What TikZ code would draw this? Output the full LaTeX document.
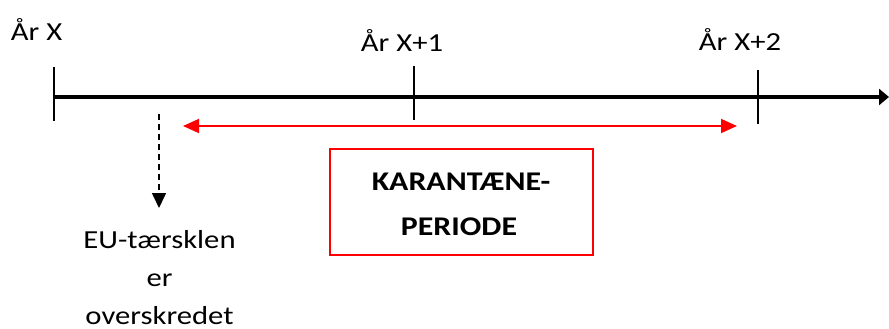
\documentclass[tikz,border=0pt]{standalone}
\usepackage{fontspec}
\setmainfont{Carlito}[FakeStretch=1.18]
\usetikzlibrary{arrows.meta}
\tikzset{
  yeartxt/.style={font=\fontsize{26}{30}\selectfont, anchor=base, inner sep=0pt},
  tickline/.style={line width=1.6pt, black},
  axisline/.style={line width=4pt, -{Triangle[length=10pt,width=16pt]}},
  redarrow/.style={line width=1.8pt, red, {Triangle[length=16pt,width=14pt]}-{Triangle[length=16pt,width=14pt]}},
  dasharrow/.style={line width=1.6pt, dash pattern=on 6pt off 4pt, -{Triangle[length=15pt,width=14pt]}},
  redbox/.style={draw=red, line width=1.6pt, minimum width=263pt, minimum height=106pt, inner sep=0pt},
  boldtxt/.style={font=\fontsize{27}{44}\selectfont\bfseries, anchor=base, inner sep=0pt},
  eutxt/.style={font=\fontsize{26}{38}\selectfont, align=center, anchor=base, inner sep=0pt, text depth=0pt}
}
\begin{document}
\begin{tikzpicture}[x=1pt,y=-1pt]
\useasboundingbox (0,0) rectangle (889,329);
% axis
\coordinate (a0) at (54,97);
\coordinate (aend) at (889,97);
\draw[axisline] (a0) -- (aend);
% ticks
\coordinate (t1a) at (54,67); \coordinate (t1b) at (54,121);
\coordinate (t2a) at (414,66); \coordinate (t2b) at (414,120);
\coordinate (t3a) at (758,70); \coordinate (t3b) at (758,124);
\draw[tickline] (t1a) -- (t1b);
\draw[tickline] (t2a) -- (t2b);
\draw[tickline] (t3a) -- (t3b);
% year labels
\node[yeartxt] (y0) at (36.5,41) {År X};
\node[yeartxt] (y1) at (402,51.5) {År X+1};
\node[yeartxt] (y2) at (740,51) {År X+2};
% red arrow
\coordinate (rl) at (183,126);
\coordinate (rr) at (737,126);
\draw[redarrow] (rl) -- (rr);
% dashed arrow
\coordinate (ds) at (159,114);
\coordinate (de) at (159,208);
\draw[dasharrow] (ds) -- (de);
% EU text
\node[eutxt] (eu) at (159.5,324) {EU-tærsklen\\er\\overskredet};
% box
\node[redbox] (box) at (461.5,202) {};
\node[boldtxt] (k1) at (461,190) {KARANTÆNE-};
\node[boldtxt] (k2) at (459,235) {PERIODE};
\end{tikzpicture}
\end{document}
